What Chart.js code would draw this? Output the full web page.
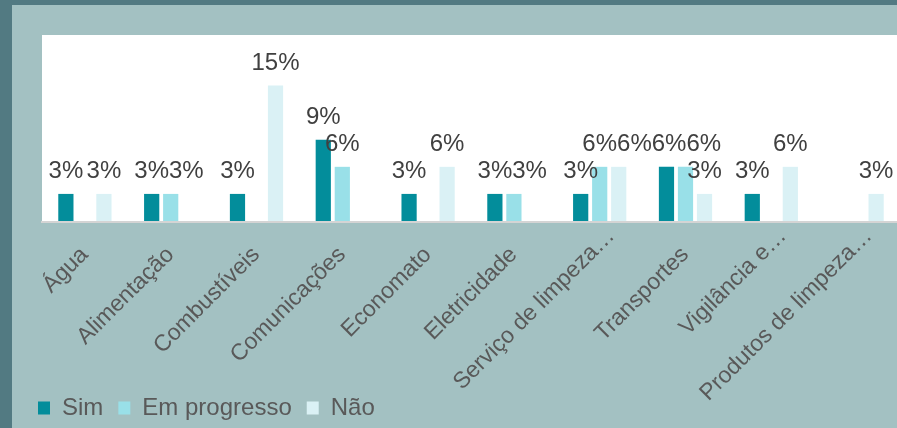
<!DOCTYPE html>
<html lang="pt">
<head>
<meta charset="utf-8">
<title>Contratos por área</title>
<script src="https://cdn.jsdelivr.net/npm/chart.js@4.4.1/dist/chart.umd.min.js"></script>
<style>
  html, body { margin: 0; padding: 0; }
  body { width: 897px; height: 428px; overflow: hidden; background: #527a82; position: relative; }
  #painel { position: absolute; left: 12px; top: 5px; width: 888px; height: 425px; background: #a3c1c2; }
</style>
</head>
<body>
<div id="painel"><canvas id="grafico"></canvas></div>
<script>
  'use strict';

  var categorias = ['Água', 'Alimentação', 'Combustíveis', 'Comunicações', 'Economato',
    'Eletricidade', 'Serviço de limpeza…', 'Transportes', 'Vigilância e…', 'Produtos de limpeza…'];
  var sim = [3, 3, 3, 9, 3, 3, 3, 6, 3, null];
  var emProgresso = [null, 3, null, 6, null, 3, 6, 6, null, null];
  var nao = [3, null, 15, null, 6, null, 6, 3, 6, 3];

  var FONTE = '"Liberation Sans", Arial, sans-serif';
  var RETICENCIAS = '…';

  // fundo branco da area de desenho + linha do eixo
  var fundoArea = {
    id: 'fundoArea',
    beforeDatasetsDraw: function (chart) {
      var a = chart.chartArea;
      var ctx = chart.ctx;
      ctx.save();
      ctx.fillStyle = '#ffffff';
      ctx.fillRect(a.left, a.top, a.right - a.left, a.bottom - a.top);
      ctx.fillStyle = '#d4d4d4';
      ctx.fillRect(a.left - 1, a.bottom, a.right - a.left + 1, 2);
      ctx.restore();
    }
  };

  // nomes das categorias a 45 graus; os nomes cortados ficam com as reticencias
  // para la do ponto de alinhamento e um pouco mais acima
  var nomesCategorias = {
    id: 'nomesCategorias',
    afterDraw: function (chart) {
      var escala = chart.scales.x;
      var ctx = chart.ctx;
      var yEixo = chart.chartArea.bottom;
      ctx.save();
      ctx.font = '23px ' + FONTE;
      ctx.fillStyle = '#595959';
      ctx.textBaseline = 'alphabetic';
      chart.data.labels.forEach(function (nome, i) {
        var cortado = nome.slice(-1) === RETICENCIAS;
        var texto = cortado ? nome.slice(0, -1) : nome;
        ctx.save();
        ctx.translate(escala.getPixelForTick(i), yEixo);
        ctx.rotate(-Math.PI / 4);
        var fim = cortado ? -23 : -21.5;
        var linha = cortado ? 22.5 : 27.5;
        ctx.textAlign = 'right';
        ctx.fillText(texto, fim, linha);
        if (cortado) {
          ctx.textAlign = 'left';
          ctx.fillText(RETICENCIAS, fim, linha);
        }
        ctx.restore();
      });
      ctx.restore();
    }
  };

  // rotulos de valor por cima das barras; empurra para a direita quando se sobrepoem
  var rotulosValores = {
    id: 'rotulosValores',
    afterDatasetsDraw: function (chart) {
      var ctx = chart.ctx;
      var colocados = [];
      ctx.save();
      ctx.font = '24px ' + FONTE;
      ctx.fillStyle = '#404040';
      ctx.textAlign = 'left';
      ctx.textBaseline = 'alphabetic';
      for (var j = 0; j < chart.data.labels.length; j++) {
        chart.data.datasets.forEach(function (ds, i) {
          var v = ds.data[j];
          if (v === null || v === undefined) return;
          var el = chart.getDatasetMeta(i).data[j];
          var texto = v + '%';
          var w = ctx.measureText(texto).width;
          var base = el.y - 16;
          var caixa = { l: el.x - w / 2, r: el.x + w / 2, t: base - 18, b: base };
          var mexeu = true;
          var voltas = 0;
          while (mexeu && voltas < 10) {
            mexeu = false;
            voltas++;
            colocados.forEach(function (o) {
              if (caixa.l < o.r - 0.5 && caixa.r > o.l + 0.5 && caixa.t < o.b && caixa.b > o.t) {
                caixa.r += o.r - caixa.l;
                caixa.l = o.r;
                mexeu = true;
              }
            });
          }
          ctx.fillText(texto, caixa.l, base);
          colocados.push(caixa);
        });
      }
      ctx.restore();
    }
  };

  new Chart(document.getElementById('grafico'), {
    type: 'bar',
    data: {
      labels: categorias,
      datasets: [
        { label: 'Sim', data: sim, backgroundColor: '#038d9b' },
        { label: 'Em progresso', data: emProgresso, backgroundColor: '#99e0e8' },
        { label: 'Não', data: nao, backgroundColor: '#daf1f5' }
      ]
    },
    options: {
      responsive: true,
      maintainAspectRatio: false,
      animation: false,
      layout: { padding: { top: 30, left: 11, right: 0, bottom: 0 } },
      datasets: {
        bar: { barPercentage: 0.8, categoryPercentage: 0.665, borderWidth: 0 }
      },
      scales: {
        x: {
          grid: { display: false, drawTicks: false },
          border: { display: false },
          ticks: { display: false },
          afterFit: function (s) { s.height = 160; }
        },
        y: {
          min: 0,
          max: 20.6,
          grid: { display: false },
          border: { display: false },
          ticks: { display: false },
          afterFit: function (s) { s.width = 19; }
        }
      },
      plugins: {
        legend: {
          position: 'bottom',
          align: 'start',
          labels: {
            boxWidth: 12,
            boxHeight: 13,
            padding: 15,
            color: '#595959',
            font: { family: FONTE, size: 24 }
          }
        },
        tooltip: { enabled: false }
      }
    },
    plugins: [fundoArea, rotulosValores, nomesCategorias]
  });
</script>
</body>
</html>
